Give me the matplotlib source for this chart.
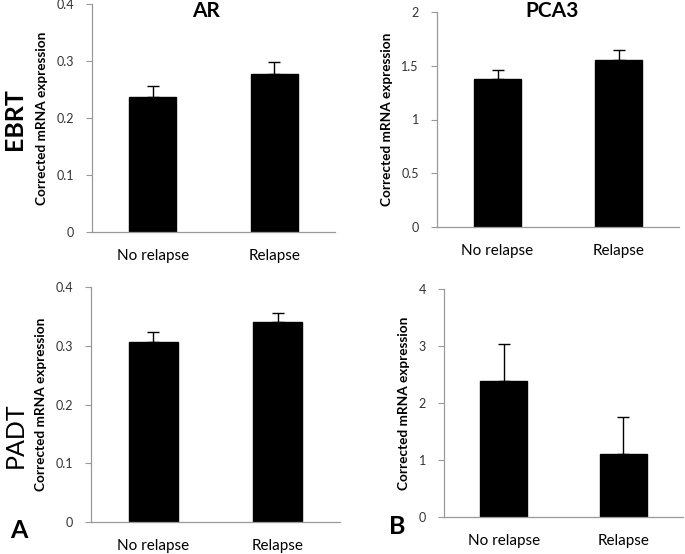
import matplotlib.pyplot as plt

plt.rcParams['font.family'] = ['Lato', 'DejaVu Sans']

groups = ['No relapse', 'Relapse']

ebrt_ar = [0.237, 0.277]
ebrt_ar_err = [0.020, 0.021]
ebrt_pca3 = [1.373, 1.55]
ebrt_pca3_err = [0.09, 0.093]
padt_ar = [0.307, 0.340]
padt_ar_err = [0.017, 0.016]
padt_pca3 = [2.39, 1.107]
padt_pca3_err = [0.64, 0.643]

W, H = 685, 554
fig = plt.figure(figsize=(W / 100, H / 100), dpi=100)


def px_axes(left, right, top, bottom):
    return fig.add_axes([left / W, 1 - bottom / H, (right - left) / W, (bottom - top) / H])


def panel(ax, vals, errs, ymax, step, fmt):
    ax.bar(range(len(groups)), vals, width=0.39, color='black', edgecolor='black')
    ax.errorbar(range(len(groups)), vals, yerr=[[0] * len(vals), errs], fmt='none',
                ecolor='black', elinewidth=1, capsize=4, capthick=1)
    ax.set_xlim(-0.5, 1.5)
    ax.set_ylim(0, ymax)
    ticks = [i * step for i in range(int(round(ymax / step)) + 1)]
    ax.set_yticks(ticks)
    ax.set_yticklabels([fmt(t) for t in ticks], fontsize=9, color='#333333')
    ax.set_xticks(range(len(groups)))
    ax.set_xticklabels(groups, fontsize=11)
    ax.tick_params(axis='x', length=0, pad=12)
    ax.tick_params(axis='y', length=4, color='#999999', direction='out', pad=9)
    for s in ['top', 'right']:
        ax.spines[s].set_visible(False)
    for s in ['left', 'bottom']:
        ax.spines[s].set_color('#999999')
        ax.spines[s].set_linewidth(0.9)
    ax.set_ylabel('Corrected mRNA expression', fontsize=9.8, fontweight='bold', labelpad=6)


def fmt_dec(t):
    return '0' if t == 0 else f'{t:.1f}'


def fmt_half(t):
    return f'{t:g}'


ax1 = px_axes(92, 335, 4, 232)
panel(ax1, ebrt_ar, ebrt_ar_err, 0.4, 0.1, fmt_dec)

ax2 = px_axes(437, 679, 12, 227)
panel(ax2, ebrt_pca3, ebrt_pca3_err, 2, 0.5, fmt_half)

ax3 = px_axes(91, 340, 287, 522)
panel(ax3, padt_ar, padt_ar_err, 0.4, 0.1, fmt_dec)

ax4 = px_axes(444, 683, 289, 517)
panel(ax4, padt_pca3, padt_pca3_err, 4, 1, fmt_half)

fig.text(206 / W, 1 - 11 / H, 'AR', fontsize=15, fontweight='bold', ha='center', va='center')
fig.text(552 / W, 1 - 11 / H, 'PCA3', fontsize=15, fontweight='bold', ha='center', va='center')

fig.text(14 / W, 1 - 119 / H, 'EBRT', rotation=90, fontsize=18, fontweight='bold',
         ha='center', va='center')
fig.text(15 / W, 1 - 435 / H, 'PADT', rotation=90, fontsize=18,
         ha='center', va='center')
fig.text(10 / W, 1 - 530 / H, 'A', fontsize=18, fontweight='bold', ha='left', va='center')
fig.text(389 / W, 1 - 527 / H, 'B', fontsize=18, fontweight='bold', ha='left', va='center')

fig.savefig('out.png', dpi=100)
